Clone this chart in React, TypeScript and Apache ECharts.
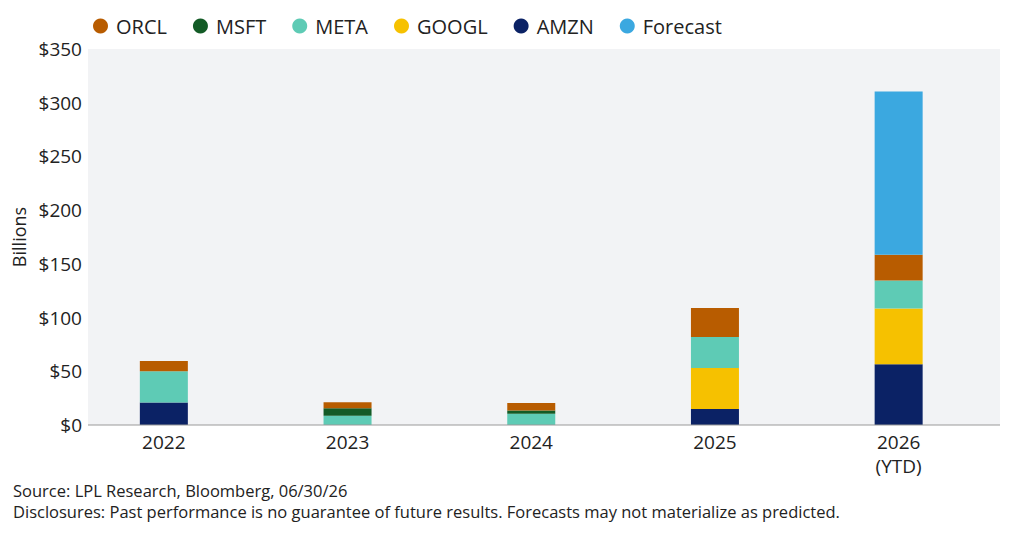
import { useEffect, useRef } from 'react';
import * as echarts from 'echarts';

const years = ['2022', '2023', '2024', '2025', '2026\n(YTD)'];
const amzn = [21, 0, 0, 15, 56.5];
const googl = [0, 0, 0, 38, 52];
const meta = [29, 8.7, 10.5, 29, 26];
const msft = [0, 7, 3, 0, 0];
const orcl = [9.5, 5.5, 7, 27, 24];
const forecast = [0, 0, 0, 0, 152];

const legendOrder = ['ORCL', 'MSFT', 'META', 'GOOGL', 'AMZN', 'Forecast'];

const FONT = '"Open Sans", Lato, sans-serif';
const TEXT = '#222222';

export default function App() {
  const chartRef = useRef<HTMLDivElement>(null);

  useEffect(() => {
    if (!chartRef.current) return;

    const chart = echarts.init(chartRef.current, null, { renderer: 'svg' });

    // bottom to top
    const stack = [
      { name: 'AMZN', data: amzn, color: '#0b2265' },
      { name: 'GOOGL', data: googl, color: '#f6c100' },
      { name: 'META', data: meta, color: '#5ecbb5' },
      { name: 'MSFT', data: msft, color: '#135b26' },
      { name: 'ORCL', data: orcl, color: '#b85c00' },
      { name: 'Forecast', data: forecast, color: '#3ba8e0' },
    ];

    const option: echarts.EChartsOption = {
      animation: false,
      textStyle: { fontFamily: FONT },
      legend: {
        data: legendOrder,
        left: 88,
        top: 11,
        icon: 'circle',
        itemWidth: 15,
        itemHeight: 15,
        itemGap: 26,
        textStyle: { color: TEXT, fontSize: 20, fontFamily: FONT, padding: [0, 0, 0, 3] },
      },
      grid: {
        left: 72,
        right: 33.5,
        top: 49,
        bottom: 111,
      },
      xAxis: {
        type: 'category',
        data: years,
        axisLine: { show: false },
        axisTick: { show: false },
        axisLabel: {
          color: TEXT,
          fontSize: 19,
          margin: 5,
          lineHeight: 24,
          fontFamily: FONT,
        },
      },
      yAxis: {
        type: 'value',
        min: 0,
        max: 350,
        interval: 50,
        offset: -16,
        name: 'Billions',
        nameLocation: 'middle',
        nameGap: 58,
        nameTextStyle: { color: TEXT, fontSize: 18, fontFamily: FONT },
        axisLine: { show: false },
        axisTick: { show: false },
        splitLine: { show: false },
        axisLabel: {
          color: TEXT,
          fontSize: 19,
          margin: 6,
          fontFamily: FONT,
          formatter: (v: number) => `$${v}`,
        },
      },
      graphic: [
        {
          type: 'rect',
          z: -10,
          shape: { x: 88, y: 49, width: 912, height: 376 },
          style: { fill: '#f2f3f5' },
          silent: true,
        },
        {
          type: 'line',
          z: 10,
          shape: { x1: 88, y1: 425, x2: 1000, y2: 425 },
          style: { stroke: '#9a9a9a', lineWidth: 1.2 },
          silent: true,
        },
        {
          type: 'text',
          left: 13,
          top: 482,
          style: {
            text: 'Source: LPL Research, Bloomberg, 06/30/26',
            fill: TEXT,
            fontSize: 16.5,
            fontFamily: FONT,
          },
        },
        {
          type: 'text',
          left: 13,
          top: 503,
          style: {
            text: 'Disclosures: Past performance is no guarantee of future results. Forecasts may not materialize as predicted.',
            fill: TEXT,
            fontSize: 16.5,
            fontFamily: FONT,
          },
        },
      ],
      series: stack.map((s) => ({
        name: s.name,
        type: 'bar',
        stack: 'total',
        barWidth: 48,
        data: s.data,
        itemStyle: { color: s.color },
        emphasis: { disabled: true },
      })),
    };

    chart.setOption(option);

    return () => {
      chart.dispose();
    };
  }, []);

  return (
    <div
      ref={chartRef}
      style={{ position: 'fixed', left: 0, top: 0, width: 1024, height: 536, background: '#ffffff' }}
    />
  );
}
